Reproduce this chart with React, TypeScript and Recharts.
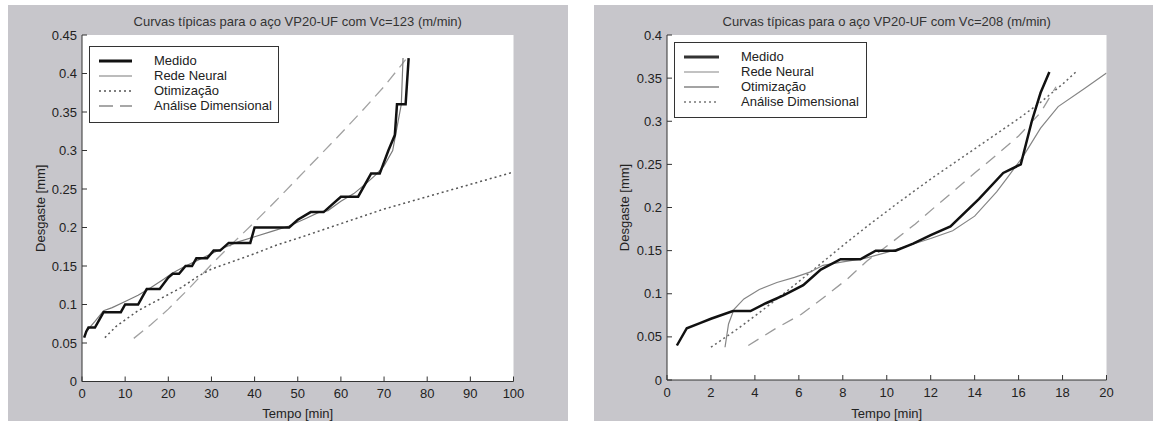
import React from 'react';
import { LineChart, Line, XAxis, YAxis, CartesianGrid, Legend } from 'recharts';

type Pt = [number, number];

// ---- Vc = 123 m/min (left plot) ----
const medido123: Pt[] = [
  [0.5, 0.057], [1, 0.065], [1.5, 0.07], [3, 0.07], [4, 0.08], [5, 0.09], [9, 0.09],
  [10, 0.1], [13, 0.1], [15, 0.12], [18, 0.12], [20, 0.135], [21, 0.14], [22.5, 0.14],
  [24, 0.15], [25.5, 0.15], [26.5, 0.16], [29, 0.16], [30.5, 0.17], [32, 0.17], [34, 0.18],
  [39, 0.18], [40, 0.2], [48, 0.2], [50, 0.21], [53, 0.22], [56, 0.22], [58, 0.23],
  [60, 0.24], [64, 0.24], [66.5, 0.265], [67, 0.27], [69, 0.27], [71, 0.3], [72.5, 0.32],
  [73, 0.36], [75, 0.36], [75.7, 0.42],
];
const rede123: Pt[] = [
  [1, 0.065], [3, 0.078], [5, 0.092], [7, 0.096], [10, 0.104], [13, 0.112], [16, 0.122],
  [19, 0.133], [21, 0.141], [24, 0.15], [27, 0.158], [30, 0.166], [33, 0.174], [36, 0.181],
  [40, 0.188], [44, 0.195], [48, 0.202], [52, 0.212], [55, 0.22], [57, 0.222], [60, 0.234],
  [63, 0.244], [66, 0.258], [68, 0.268], [70, 0.28], [72, 0.3], [73, 0.33], [74, 0.36],
  [74.4, 0.42],
];
const otim123: Pt[] = [
  [5.3, 0.057], [8, 0.072], [10, 0.08], [13, 0.092], [17, 0.104], [20, 0.113], [23, 0.122],
  [27, 0.137], [30, 0.146], [35, 0.156], [40, 0.166], [45, 0.177], [50, 0.186], [60, 0.205],
  [70, 0.224], [80, 0.24], [90, 0.256], [100, 0.272],
];
const analise123: Pt[] = [
  [12, 0.056], [16, 0.074], [20, 0.094], [25, 0.122], [30, 0.152], [35, 0.18], [40, 0.207],
  [45, 0.235], [50, 0.264], [55, 0.293], [60, 0.322], [65, 0.352], [70, 0.383], [75, 0.418],
];
const xTicks123 = [0, 10, 20, 30, 40, 50, 60, 70, 80, 90, 100];
const yTicks123 = [0, 0.05, 0.1, 0.15, 0.2, 0.25, 0.3, 0.35, 0.4, 0.45];

// ---- Vc = 208 m/min (right plot) ----
const medido208: Pt[] = [
  [0.45, 0.04], [0.9, 0.06], [1.5, 0.066], [2, 0.071], [3, 0.08], [3.8, 0.08], [4.5, 0.089],
  [5.3, 0.098], [6.2, 0.11], [7, 0.128], [7.9, 0.14], [8.8, 0.14], [9.5, 0.15], [10.4, 0.15],
  [11.2, 0.158], [12, 0.168], [12.9, 0.178], [14.2, 0.21], [15.3, 0.24], [16.1, 0.25],
  [16.6, 0.3], [17, 0.333], [17.4, 0.357],
];
const rede208: Pt[] = [
  [2.64, 0.038], [2.8, 0.065], [3.05, 0.082], [3.5, 0.094], [4.2, 0.105], [5, 0.113],
  [5.8, 0.119], [6.5, 0.125], [7.1, 0.133], [8, 0.137], [9, 0.141], [10, 0.148], [11, 0.156],
  [12, 0.164], [13, 0.173], [14, 0.19], [15, 0.218], [15.5, 0.235], [16.2, 0.259], [17, 0.292],
  [17.8, 0.317], [19, 0.338], [20, 0.356],
];
const otim208: Pt[] = [
  [3.7, 0.04], [4.9, 0.059], [6.1, 0.076], [7.1, 0.095], [8.2, 0.117], [9.1, 0.138],
  [10.3, 0.161], [11.3, 0.181], [12.3, 0.203], [13, 0.218], [14, 0.24], [15, 0.261],
  [16, 0.283], [17, 0.31], [17.7, 0.34],
];
const analise208: Pt[] = [
  [2, 0.038], [3.2, 0.059], [4.3, 0.08], [5.8, 0.11], [7, 0.135], [8.2, 0.16], [9.4, 0.184],
  [10.6, 0.207], [12, 0.233], [14, 0.268], [16, 0.303], [17, 0.322], [18, 0.343], [18.6, 0.357],
];
const xTicks208 = [0, 2, 4, 6, 8, 10, 12, 14, 16, 18, 20];
const yTicks208 = [0, 0.05, 0.1, 0.15, 0.2, 0.25, 0.3, 0.35, 0.4];

const toRows = (pts: Pt[]) => pts.map(([x, y]) => ({ x, y }));
const fmt = (v: number) => String(Number(v.toFixed(2)));

const INK = '#222';
const BOX = '#333';
const PANEL_BG = '#c7c6cb';
const FONT = 13;

// matlab style: ticks point into the box on all four sides
const BottomTick = ({ x, y, payload }: any) => {
  const a = y - 3;
  return (
    <g>
      <line x1={x} y1={a} x2={x} y2={a - 5} stroke={BOX} />
      <text x={x} y={a + 16.5} textAnchor="middle" fontSize={FONT} fill={INK}>{fmt(payload.value)}</text>
    </g>
  );
};
const LeftTick = ({ x, y, payload }: any) => {
  const a = x + 3;
  return (
    <g>
      <line x1={a} y1={y} x2={a + 5} y2={y} stroke={BOX} />
      <text x={a - 5} y={y + 4.5} textAnchor="end" fontSize={FONT} fill={INK}>{fmt(payload.value)}</text>
    </g>
  );
};
const TopTick = ({ x, y }: any) => <line x1={x} y1={y} x2={x} y2={y + 5} stroke={BOX} />;
const RightTick = ({ x, y }: any) => <line x1={x} y1={y} x2={x - 5} y2={y} stroke={BOX} />;

interface Series {
  name: string;
  data: Pt[];
  stroke: string;
  width: number;
  dash?: string;
}

interface LegendEntry {
  name: string;
  stroke: string;
  width: number;
  dash?: string;
}

const LegendBox = ({ items, w, h, s0, s1, tx }: { items: LegendEntry[]; w: number; h: number; s0: number; s1: number; tx: number }) => (
  <div style={{ position: 'relative', width: w, height: h, boxSizing: 'border-box', border: `1px solid ${BOX}`, background: '#fff' }}>
    <svg width={w} height={h} style={{ position: 'absolute', left: -1, top: -1 }}>
      {items.map((it, i) => (
        <line key={it.name} x1={s0} x2={s1} y1={15 + 15 * i} y2={15 + 15 * i}
          stroke={it.stroke} strokeWidth={it.width} strokeDasharray={it.dash} />
      ))}
    </svg>
    {items.map((it, i) => (
      <div key={it.name} style={{ position: 'absolute', left: tx - 1, top: 15 + 15 * i - 9, fontSize: FONT, lineHeight: '16px', color: INK, whiteSpace: 'nowrap' }}>
        {it.name}
      </div>
    ))}
  </div>
);

interface PanelProps {
  left: number;
  width: number;
  title: string;
  xMax: number;
  yMax: number;
  xTicks: number[];
  yTicks: number[];
  series: Series[];
  legend: LegendEntry[];
  plotLeft: number;
  plotRight: number;
  xAxisH: number;
  yLabelX: number;
  legendBox: { left: number; top: number; w: number; h: number; s0: number; s1: number; tx: number };
}

const Panel = (p: PanelProps) => {
  const lb = p.legendBox;
  return (
    <div style={{ position: 'absolute', left: p.left, top: 5, width: p.width, height: 416, background: PANEL_BG }}>
      <div style={{ position: 'absolute', left: p.plotLeft, width: p.width - p.plotLeft - p.plotRight, top: 9, textAlign: 'center', fontSize: FONT, lineHeight: '15px', color: '#333', whiteSpace: 'nowrap' }}>
        {p.title}
      </div>
      <LineChart width={p.width} height={416} margin={{ top: 30, right: p.plotRight, left: 0, bottom: 0 }}>
        <CartesianGrid horizontal={false} vertical={false} fill="#fff" />
        <XAxis
          dataKey="x" type="number" domain={[0, p.xMax]} ticks={p.xTicks} interval={0}
          allowDataOverflow height={p.xAxisH} tickSize={0} tickMargin={3} tickLine={false}
          axisLine={{ stroke: BOX }} tick={<BottomTick />}
          label={{ value: 'Tempo [min]', position: 'insideBottom', offset: 3.5, fill: INK, fontSize: FONT }}
        />
        <XAxis
          xAxisId="top" orientation="top" dataKey="x" type="number" domain={[0, p.xMax]}
          ticks={p.xTicks} interval={0} allowDataOverflow height={0} tickSize={0} tickMargin={0}
          tickLine={false} axisLine={{ stroke: BOX }} tick={<TopTick />}
        />
        <YAxis
          type="number" domain={[0, p.yMax]} ticks={p.yTicks} interval={0} allowDataOverflow
          width={p.plotLeft} tickSize={0} tickMargin={3} tickLine={false} axisLine={{ stroke: BOX }}
          tick={<LeftTick />}
          label={{ value: 'Desgaste [mm]', angle: -90, position: 'insideLeft', offset: p.yLabelX, style: { textAnchor: 'middle' }, fill: INK, fontSize: FONT }}
        />
        <YAxis
          yAxisId="right" orientation="right" type="number" domain={[0, p.yMax]} ticks={p.yTicks}
          interval={0} allowDataOverflow width={0} tickSize={0} tickMargin={0} tickLine={false}
          axisLine={{ stroke: BOX }} tick={<RightTick />}
        />
        <Legend
          layout="vertical" align="center" verticalAlign="middle"
          wrapperStyle={{ left: lb.left, top: lb.top, width: lb.w, height: lb.h }}
          content={() => <LegendBox items={p.legend} w={lb.w} h={lb.h} s0={lb.s0} s1={lb.s1} tx={lb.tx} />}
        />
        {p.series.map((s) => (
          <Line
            key={s.name} name={s.name} data={toRows(s.data)} dataKey="y" type="linear"
            stroke={s.stroke} strokeWidth={s.width} strokeDasharray={s.dash}
            dot={false} activeDot={false} isAnimationActive={false}
          />
        ))}
      </LineChart>
    </div>
  );
};

const series123: Series[] = [
  { name: 'Análise Dimensional', data: analise123, stroke: '#a2a2a2', width: 1.3, dash: '12 7' },
  { name: 'Otimização', data: otim123, stroke: '#555', width: 1.5, dash: '2 3' },
  { name: 'Rede Neural', data: rede123, stroke: '#7a7a7a', width: 1.2 },
  { name: 'Medido', data: medido123, stroke: '#111', width: 2.5 },
];
const legend123: LegendEntry[] = [
  { name: 'Medido', stroke: '#111', width: 2.8 },
  { name: 'Rede Neural', stroke: '#7a7a7a', width: 1.2 },
  { name: 'Otimização', stroke: '#555', width: 1.3, dash: '2 3' },
  { name: 'Análise Dimensional', stroke: '#8a8a8a', width: 1.3, dash: '14 7' },
];

const series208: Series[] = [
  { name: 'Otimização', data: otim208, stroke: '#9a9a9a', width: 1.3, dash: '12 8' },
  { name: 'Análise Dimensional', data: analise208, stroke: '#666', width: 1.5, dash: '2 3' },
  { name: 'Rede Neural', data: rede208, stroke: '#858585', width: 1.2 },
  { name: 'Medido', data: medido208, stroke: '#111', width: 2.5 },
];
const legend208: LegendEntry[] = [
  { name: 'Medido', stroke: '#333', width: 3 },
  { name: 'Rede Neural', stroke: '#858585', width: 1.2 },
  { name: 'Otimização', stroke: '#858585', width: 1.3 },
  { name: 'Análise Dimensional', stroke: '#777', width: 1.3, dash: '2 3' },
];

export default function App() {
  return (
    <div style={{ position: 'absolute', left: 0, top: 0, width: 1153, height: 425, background: '#fff', fontFamily: '"Liberation Sans", Arial, sans-serif', overflow: 'hidden' }}>
      <Panel
        left={8} width={560}
        title="Curvas típicas para o aço VP20-UF com Vc=123 (m/min)"
        xMax={100} yMax={0.45} xTicks={xTicks123} yTicks={yTicks123}
        series={series123} legend={legend123}
        plotLeft={74} plotRight={54.5} xAxisH={39.5} yLabelX={32}
        legendBox={{ left: 81, top: 41, w: 190, h: 77, s0: 10, s1: 43, tx: 65 }}
      />
      <Panel
        left={594} width={559}
        title="Curvas típicas para o aço VP20-UF com Vc=208 (m/min)"
        xMax={20} yMax={0.4} xTicks={xTicks208} yTicks={yTicks208}
        series={series208} legend={legend208}
        plotLeft={73} plotRight={46.5} xAxisH={41} yLabelX={30.5}
        legendBox={{ left: 80, top: 37, w: 193, h: 76, s0: 10, s1: 45, tx: 67 }}
      />
    </div>
  );
}
